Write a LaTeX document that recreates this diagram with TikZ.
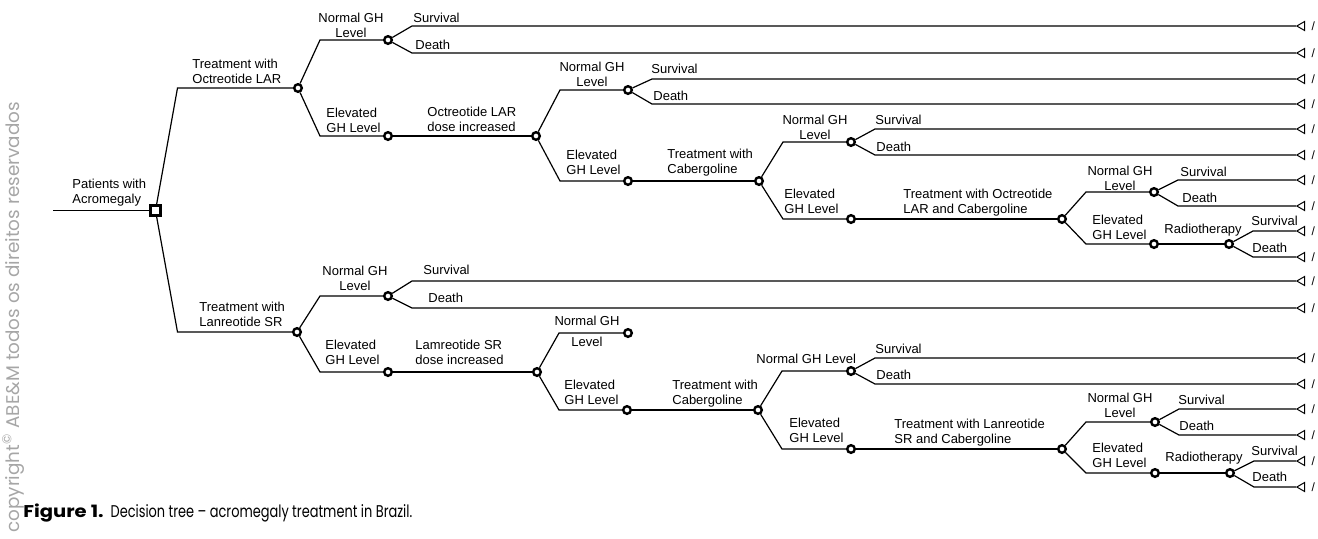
\documentclass[tikz,border=0pt]{standalone}
\usepackage{fontspec}
\setmainfont{Liberation Sans}
\newfontfamily\capfont[FakeStretch=0.76]{Poppins}
\newfontfamily\capbold[FakeStretch=1.15]{Poppins}
\newfontfamily\notefont{Poppins}
\usetikzlibrary{positioning,shapes.geometric,calc}
\tikzset{
  decision/.style = {draw, rectangle, line width=1.5pt, fill=white, minimum size=5pt, inner sep=0pt},
  chance/.style   = {draw, circle, line width=1.2pt, fill=white, minimum size=3.8pt, inner sep=0pt},
  terminal/.style = {draw, regular polygon, regular polygon sides=3, shape border rotate=90,
                     line width=0.5pt, minimum size=5.2pt, inner sep=0pt},
  slash/.style    = {font=\fontsize{6}{7}\selectfont, inner sep=0pt},
  branch/.style   = {line width=0.6pt},
  fork/.style     = {to path={-- ([xshift=#1]\tikztostart |- \tikztotarget) -- (\tikztotarget) \tikztonodes}},
  fork/.default   = 12pt,
  lab/.style      = {font=\fontsize{6.5}{7.75}\selectfont, align=left, inner sep=0pt, anchor=base west},
  labc/.style     = {lab, align=center, anchor=base}
}
\begin{document}
\begin{tikzpicture}[x=0.5pt, y=-0.5pt]
        \useasboundingbox (0,0) rectangle (1318,538);

        % root and first choice
        \coordinate (start) at (53,210.5);
        \node[decision] (root) at (155.5,210.5) {};
        \node[chance] (oct) at (298,88) {};
        \node[chance] (lan) at (297,332) {};

        % octreotide arm
        \node[chance] (on1) at (388,40) {};
        \node[chance] (oe1) at (388,136) {};
        \node[chance] (od)  at (536,136) {};
        \node[chance] (on2) at (628,90) {};
        \node[chance] (oe2) at (628,181) {};
        \node[chance] (oc)  at (759,181) {};
        \node[chance] (on3) at (851,142) {};
        \node[chance] (oe3) at (851,219) {};
        \node[chance] (ocb) at (1062,219) {};
        \node[chance] (on4) at (1154,192) {};
        \node[chance] (oe4) at (1154,244) {};
        \node[chance] (orx) at (1229,244) {};

        % lanreotide arm
        \node[chance] (ln1) at (388,296) {};
        \node[chance] (le1) at (388,372) {};
        \node[chance] (ld)  at (537,372) {};
        \node[chance] (ln2) at (628,333) {};
        \node[chance] (le2) at (627,410) {};
        \node[chance] (lc)  at (758,410) {};
        \node[chance] (ln3) at (851,371) {};
        \node[chance] (le3) at (851,449) {};
        \node[chance] (lcb) at (1062,449) {};
        \node[chance] (ln4) at (1155,422) {};
        \node[chance] (le4) at (1155,473) {};
        \node[chance] (lrx) at (1230,473) {};

        % outcomes
        \foreach \ty [count=\i] in {26,53,79,104,129,155,180,206,231,257,281,308,358,384,409,435,461,487} {
            \node[terminal] (t\i) at (1302,\ty) {};
            \node[slash, right=3pt of t\i] (s\i) {/};
        }

        \draw[branch] (start) -- (root);
        \draw[branch] (root) to[fork=11pt] (oct) (root) to[fork=11pt] (lan);
        \draw[branch] (oct) to[fork=11pt] (on1) (oct) to[fork=11pt] (oe1);
        \draw[branch] (on1) to[fork] (t1) (on1) to[fork] (t2);
        \draw[branch] (oe1) -- (od);
        \draw[branch] (od) to[fork] (on2) (od) to[fork] (oe2);
        \draw[branch] (on2) to[fork] (t3) (on2) to[fork] (t4);
        \draw[branch] (oe2) -- (oc);
        \draw[branch] (oc) to[fork] (on3) (oc) to[fork] (oe3);
        \draw[branch] (on3) to[fork] (t5) (on3) to[fork] (t6);
        \draw[branch] (oe3) -- (ocb);
        \draw[branch] (ocb) to[fork] (on4) (ocb) to[fork] (oe4);
        \draw[branch] (on4) to[fork] (t7) (on4) to[fork] (t8);
        \draw[branch] (oe4) -- (orx);
        \draw[branch] (orx) to[fork] (t9) (orx) to[fork] (t10);

        \draw[branch] (lan) to[fork=11.5pt] (ln1) (lan) to[fork=11.5pt] (le1);
        \draw[branch] (ln1) to[fork] (t11) (ln1) to[fork] (t12);
        \draw[branch] (le1) -- (ld);
        \draw[branch] (ld) to[fork=11pt] (ln2) (ld) to[fork=11pt] (le2);
        \draw[branch] (le2) -- (lc);
        \draw[branch] (lc) to[fork] (ln3) (lc) to[fork] (le3);
        \draw[branch] (ln3) to[fork] (t13) (ln3) to[fork] (t14);
        \draw[branch] (le3) -- (lcb);
        \draw[branch] (lcb) to[fork] (ln4) (lcb) to[fork] (le4);
        \draw[branch] (ln4) to[fork] (t15) (ln4) to[fork] (t16);
        \draw[branch] (le4) -- (lrx);
        \draw[branch] (lrx) to[fork] (t17) (lrx) to[fork] (t18);

        % labels, octreotide arm
        \node[lab] (lroot) at (72,203.5) {Patients with\\Acromegaly};
        \node[lab] (loct) at (192,83.5) {Treatment with\\Octreotide LAR};
        \node[labc] (lon1) at (351,37.5) {Normal GH\\Level};
        \node[lab] (loe1) at (326,132.5) {Elevated\\GH Level};
        \node[lab] (ls1) at (413,22.5) {Survival};
        \node[lab] (ld1) at (415,49.5) {Death};
        \node[lab] (lod) at (427,131.5) {Octreotide LAR\\dose increased};
        \node[labc] (lon2) at (592,86.5) {Normal GH\\Level};
        \node[lab] (loe2) at (566,174.5) {Elevated\\GH Level};
        \node[lab] (ls2) at (651,73.5) {Survival};
        \node[lab] (ld2) at (653,100.5) {Death};
        \node[lab] (loc) at (667,173.5) {Treatment with\\Cabergoline};
        \node[labc] (lon3) at (815,139.5) {Normal GH\\Level};
        \node[lab] (loe3) at (784,213.5) {Elevated\\GH Level};
        \node[lab] (ls3) at (875,124.5) {Survival};
        \node[lab] (ld3) at (876,151.5) {Death};
        \node[lab] (locb) at (903,213.5) {Treatment with Octreotide\\LAR and Cabergoline};
        \node[labc] (lon4) at (1120,190.5) {Normal GH\\Level};
        \node[lab] (loe4) at (1092,239.5) {Elevated\\GH Level};
        \node[lab] (ls4) at (1180,176.5) {Survival};
        \node[lab] (ld4) at (1182,202.5) {Death};
        \node[lab] (lorx) at (1164,233.5) {Radiotherapy};
        \node[lab] (ls5) at (1251,225.5) {Survival};
        \node[lab] (ld5) at (1252,252.5) {Death};

        % labels, lanreotide arm
        \node[lab] (llan) at (199,326.5) {Treatment with\\Lanreotide SR};
        \node[labc] (lln1) at (355,290.5) {Normal GH\\Level};
        \node[lab] (lle1) at (325,364.5) {Elevated\\GH Level};
        \node[lab] (ls6) at (423,274.5) {Survival};
        \node[lab] (ld6) at (428,302.5) {Death};
        \node[lab] (lld) at (415,364.5) {Lamreotide SR\\dose increased};
        \node[labc] (lln2) at (587,346.5) {Normal GH\\[2.75pt]Level};
        \node[lab] (lle2) at (564,404.5) {Elevated\\GH Level};
        \node[lab] (llc) at (672,404.5) {Treatment with\\Cabergoline};
        \node[lab] (lln3) at (756,363.5) {Normal GH Level};
        \node[lab] (lle3) at (789,442.5) {Elevated\\GH Level};
        \node[lab] (ls7) at (875,353.5) {Survival};
        \node[lab] (ld7) at (876,379.5) {Death};
        \node[lab] (llcb) at (894,443.5) {Treatment with Lanreotide\\SR and Cabergoline};
        \node[labc] (lln4) at (1120,417.5) {Normal GH\\Level};
        \node[lab] (lle4) at (1092,467.5) {Elevated\\GH Level};
        \node[lab] (ls8) at (1178,404.5) {Survival};
        \node[lab] (ld8) at (1179,430.5) {Death};
        \node[lab] (llrx) at (1165,461.5) {Radiotherapy};
        \node[lab] (ls9) at (1251,455.5) {Survival};
        \node[lab] (ld9) at (1252,481.5) {Death};

        % caption and side note
        \node[anchor=base west, inner sep=0pt, font=\capfont\fontsize{8.5}{9}\selectfont] (cap) at (23,517)
            {{\capbold\bfseries Figure 1.}\ \ Decision tree – acromegaly treatment in Brazil.};
        \node[rotate=90, anchor=base west, inner sep=0pt, text=black!35, font=\notefont\fontsize{9.2}{10}\selectfont] (copy) at (19,533)
            {copyright\textsuperscript{\textcopyright} ABE\&M todos os direitos reservados};
\end{tikzpicture}
\end{document}
